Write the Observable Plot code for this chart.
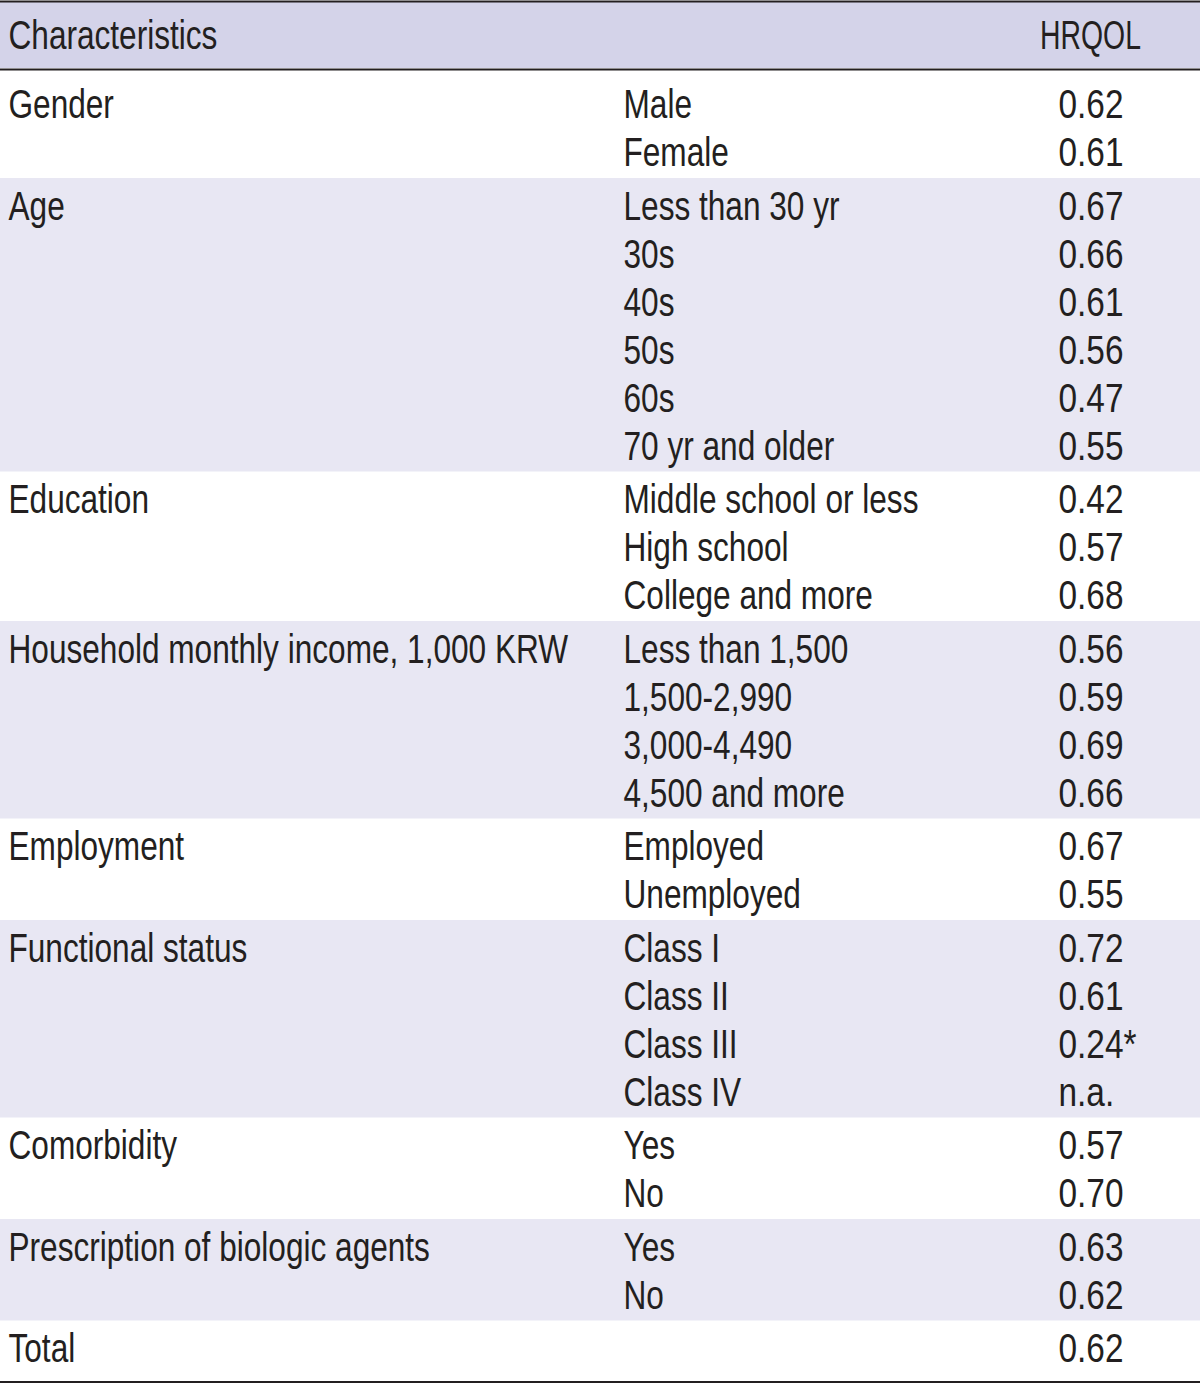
<!DOCTYPE html>
<html><head><meta charset="utf-8">
<script src="https://cdn.jsdelivr.net/npm/d3@7"></script>
<script src="https://cdn.jsdelivr.net/npm/@observablehq/plot@0.6"></script>
<style>html,body{margin:0;padding:0;background:#fff;}</style>
</head><body><div id="chart"></div>
<script>
const headers = ["Characteristics", "HRQOL"];
const groups = ["Gender", "Age", "Education", "Household monthly income, 1,000 KRW", "Employment", "Functional status", "Comorbidity", "Prescription of biologic agents", "Total"];
const categories = [
  ["Male", "Female"],
  ["Less than 30 yr", "30s", "40s", "50s", "60s", "70 yr and older"],
  ["Middle school or less", "High school", "College and more"],
  ["Less than 1,500", "1,500-2,990", "3,000-4,490", "4,500 and more"],
  ["Employed", "Unemployed"],
  ["Class I", "Class II", "Class III", "Class IV"],
  ["Yes", "No"],
  ["Yes", "No"],
  [""]
];
const hrqol = [
  [0.62, 0.61],
  [0.67, 0.66, 0.61, 0.56, 0.47, 0.55],
  [0.42, 0.57, 0.68],
  [0.56, 0.59, 0.69, 0.66],
  [0.67, 0.55],
  [0.72, 0.61, 0.24, null],
  [0.57, 0.70],
  [0.63, 0.62],
  [0.62]
];
const significant = [
  [false, false],
  [false, false, false, false, false, false],
  [false, false, false],
  [false, false, false, false],
  [false, false],
  [false, false, true, false],
  [false, false],
  [false, false],
  [false]
];

// layout
const W = 1200, H = 1383;
const pitch = 48, groupPad = 5.5, edgePad = 6.5, headerBottom = 70, baselineOffset = 41;
const col1 = 8, col2 = 623, col3 = 1058, col3Center = 1090;
const ink = "#231f20", headerFill = "#d4d3e9", shadeFill = "#e8e7f3";
const font = "'Liberation Sans', Arial, Helvetica, sans-serif";
const fontSize = 40;
// horizontal squeeze to imitate a condensed face
const condenseLabels = 0.79, condenseValues = 0.835, condenseHeader = 0.71;

const rows = [], bands = [];
let cursor = headerBottom;
groups.forEach((g, i) => {
  const n = categories[i].length;
  const extraTop = i === 0 ? edgePad : 0;
  const extraBottom = i === groups.length - 1 ? edgePad : 0;
  const h = n * pitch + groupPad + extraTop + extraBottom;
  bands.push({y1: cursor, y2: cursor + h, shaded: i % 2 === 1});
  categories[i].forEach((c, j) => {
    const v = hrqol[i][j];
    rows.push({
      group: j === 0 ? g : "",
      category: c,
      label: v == null ? "n.a." : v.toFixed(2) + (significant[i][j] ? "*" : ""),
      baseline: cursor + extraTop + baselineOffset + j * pitch
    });
  });
  cursor += h;
});
const bottomRule = cursor + 1;

const textOpts = {lineAnchor: "bottom", fontSize, fontFamily: font, fill: ink, textAnchor: "start"};

const chart = Plot.plot({
  width: W, height: H, margin: 0,
  x: {type: "identity", axis: null},
  y: {type: "identity", axis: null},
  style: {background: "#fff"},
  marks: [
    Plot.rect([{}], {x1: 0, x2: W, y1: 2, y2: headerBottom - 2, fill: headerFill}),
    Plot.rect(bands.filter(d => d.shaded), {x1: 0, x2: W, y1: "y1", y2: "y2", fill: shadeFill}),
    Plot.ruleY([1, headerBottom - 1, bottomRule], {y: d => d, stroke: ink, strokeWidth: 2}),
    Plot.text([headers[0]], {...textOpts, x: col1, y: 48, text: d => d}),
    Plot.text([headers[1]], {...textOpts, x: col3Center, y: 48, text: d => d, textAnchor: "middle"}),
    Plot.text(rows, {...textOpts, x: col1, y: "baseline", text: "group"}),
    Plot.text(rows, {...textOpts, x: col2, y: "baseline", text: "category"}),
    Plot.text(rows, {...textOpts, x: col3, y: "baseline", text: "label"})
  ]
});

// squeeze glyphs horizontally around each text's anchor point
d3.select(chart).selectAll("text").each(function() {
  const t = this.getAttribute("transform") || "";
  const m = /translate\(\s*([-\d.e]+)[\s,]*([-\d.e]+)?\s*\)/.exec(t);
  const X = (m ? +m[1] : 0) + (+this.getAttribute("x") || 0);
  const s = this.textContent === headers[1] ? condenseHeader
    : X >= col3 - 10 ? condenseValues : condenseLabels;
  this.setAttribute("transform", `translate(${X},0) scale(${s},1) translate(${-X},0) ${t}`);
});

document.getElementById("chart").appendChild(chart);
</script>
</body></html>
